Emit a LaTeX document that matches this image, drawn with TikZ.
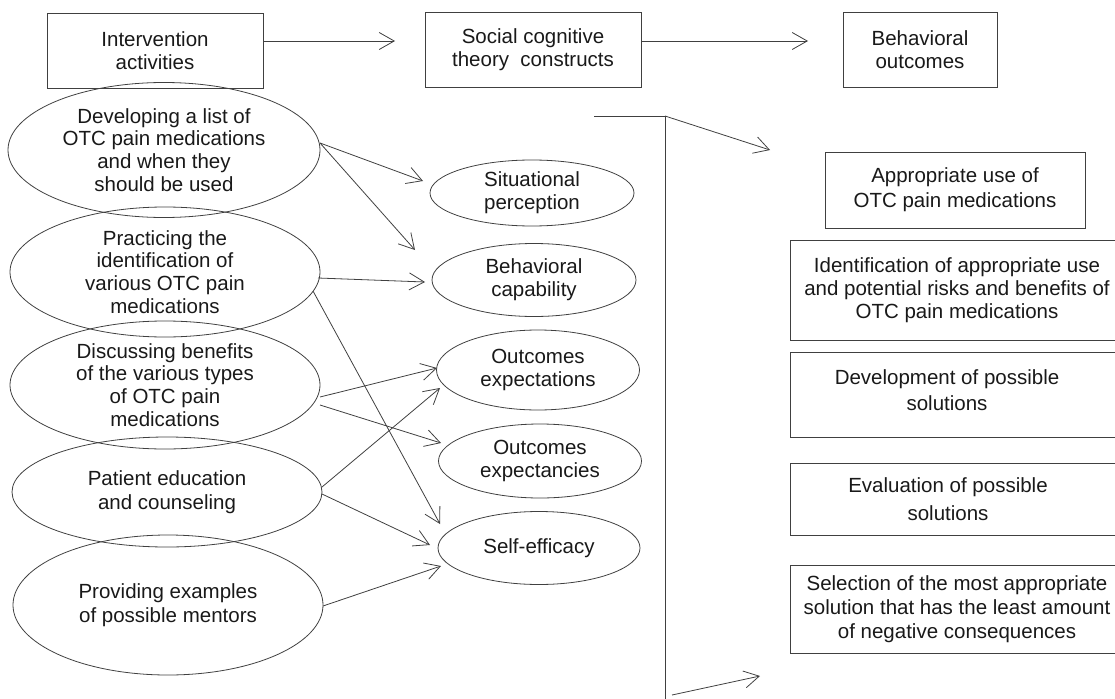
\documentclass[tikz,border=0pt]{standalone}
\usepackage{fontspec}
\setmainfont{Liberation Sans}
\usetikzlibrary{arrows.meta,calc,shapes.geometric}
\definecolor{ln}{gray}{0.25}
\definecolor{txt}{gray}{0.1}
\begin{document}
\begin{tikzpicture}[x=1pt,y=-1pt,
  every node/.style={font=\fontsize{20.5}{22.8}\selectfont, text=txt, align=center, inner sep=0pt},
  box/.style={draw=ln, line width=0.9pt, rectangle},
  ell/.style={draw=ln, ellipse, line width=0.8pt},
  arr/.style={draw=ln, line width=0.8pt, -{Straight Barb[length=15pt,width=17pt]}},
  ln/.style={draw=ln, line width=0.9pt}
]
\useasboundingbox (0,0) rectangle (1115,698);
\clip (0,0) rectangle (1115,698);
% header boxes
\node[box, minimum width=216pt, minimum height=75pt] (iv) at (155,51) {Intervention\\activities};
\node[box, minimum width=216pt, minimum height=75pt] (sct) at (533,50) {Social cognitive\\theory\ \ constructs};
\node[box, minimum width=154pt, minimum height=75pt] (bo) at (920,50) {Behavioral\\outcomes};
% left ellipses
\node[ell, minimum width=312pt, minimum height=135pt] (e1) at (164,150) {Developing a list of\\OTC pain medications\\and when they\\should be used};
\node[ell, minimum width=310pt, minimum height=130pt] (e2) at (165,272) {Practicing the\\identification of\\various OTC pain\\medications};
\node[ell, minimum width=310pt, minimum height=128pt] (e3) at (165,385) {Discussing benefits\\of the various types\\of OTC pain\\medications};
\node[ell, minimum width=310pt, minimum height=110pt] (e4) at (167,492) {Patient education\\[1.5pt]and counseling};
\node[ell, minimum width=310pt, minimum height=140pt] (e5) at (168,605) {Providing examples\\[1.5pt]of possible mentors};
% middle ellipses
\node[ell, minimum width=204pt, minimum height=66pt] (sp) at (532,193) {Situational\\perception};
\node[ell, minimum width=204pt, minimum height=73pt] (bc) at (534,280) {Behavioral\\capability};
\node[ell, minimum width=203pt, minimum height=80pt] (oe) at (538,370) {Outcomes\\expectations};
\node[ell, minimum width=203pt, minimum height=74pt] (ox) at (540,461) {Outcomes\\expectancies};
\node[ell, minimum width=202pt, minimum height=73pt] (se) at (539,548) {Self-efficacy};
% right boxes
\node[box, minimum width=260pt, minimum height=76pt] (r1) at (955,190) {Appropriate use of\\[2.5pt]OTC pain medications};
\node[box, minimum width=334pt, minimum height=100pt] (r2) at (957,290) {Identification of appropriate use\\and potential risks and benefits of\\OTC pain medications};
\node[box, minimum width=334pt, minimum height=85pt] (r3) at (957,394.5) {};
\node at (947,390) {Development of possible\\[3.5pt]solutions};
\node[box, minimum width=334pt, minimum height=72pt] (r4) at (957,499) {};
\node at (948,499) {Evaluation of possible\\[5pt]solutions};
\node[box, minimum width=334pt, minimum height=88pt] (r5) at (957,609) {Selection of the most appropriate\\[1pt]solution that has the least amount\\[1pt]of negative consequences};
% bracket
\coordinate (bl) at (594,116);
\coordinate (bt) at (665,116);
\coordinate (bb) at (665,700);
\coordinate (bs) at (672,695);
\draw[ln] (bl) -- (bt) -- (bb);
% arrows
\draw[arr] ($(iv.center)+(108,-10)$) -- ($(sct.center)+(-138,-9)$);
\draw[arr] ($(sct.center)+(108,-9)$) -- ($(bo.center)+(-112,-9)$);
\draw[arr] (bt) -- ($(r1.center)+(-185,-40)$);
\draw[arr] (bs) -- ($(r5.center)+(-197,67)$);
\draw[arr] ($(e1.center)+(156,-7)$) -- ($(sp.center)+(-109,-12)$);
\draw[arr] ($(e1.center)+(156,-7)$) -- ($(bc.center)+(-119,-30)$);
\draw[arr] ($(e2.center)+(153,6)$) -- ($(bc.center)+(-109,2)$);
\draw[arr] ($(e2.center)+(148,19)$) -- ($(se.center)+(-99,-24)$);
\draw[arr] ($(e3.center)+(155,12)$) -- ($(oe.center)+(-101,-2)$);
\draw[arr] ($(e3.center)+(155,20)$) -- ($(ox.center)+(-99,-18)$);
\draw[arr] ($(e4.center)+(155,-5)$) -- ($(oe.center)+(-98,18)$);
\draw[arr] ($(e4.center)+(155,2)$) -- ($(se.center)+(-109,-3)$);
\draw[arr] ($(e5.center)+(155,1)$) -- ($(se.center)+(-98,18)$);
\end{tikzpicture}
\end{document}
